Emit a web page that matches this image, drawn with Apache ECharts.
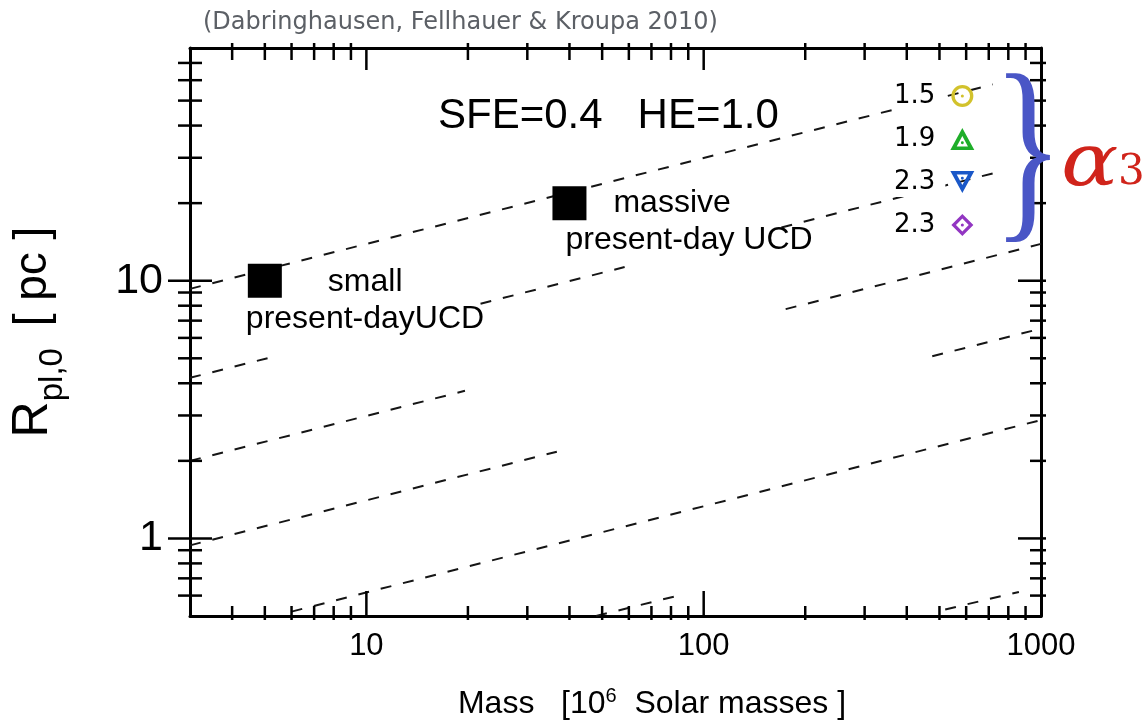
<!DOCTYPE html>
<html>
<head>
<meta charset="utf-8">
<script src="https://cdn.jsdelivr.net/npm/echarts@6/dist/echarts.min.js"></script>
<style>
  html, body { margin: 0; padding: 0; background: #fff; }
  #chart { width: 1145px; height: 725px; }
</style>
</head>
<body>
<div id="chart"></div>
<script>
// Mass axis (10^6 solar masses)
const massRange = [3, 1000];
const massLabels = [10, 100, 1000];
const massMajorTicks = [10, 100];
const massMinorTicks = [4, 5, 6, 7, 8, 9, 20, 30, 40, 50, 60, 70, 80, 90, 200, 300, 400, 500, 600, 700, 800, 900];

// Plummer radius axis (pc)
const radiusRange = [0.5, 80];
const radiusLabels = [1, 10];
const radiusMajorTicks = [1, 10];
const radiusMinorTicks = [0.6, 0.7, 0.8, 0.9, 2, 3, 4, 5, 6, 7, 8, 9, 20, 30, 40, 50, 60, 70];

// Present-day UCDs [mass, radius]
const ucdSmall = [5, 10];
const ucdMassive = [40, 20];

// Dashed constant-density lines; each is a list of visible pieces [[m0, r0], [m1, r1]]
const densityLine1 = [[[3, 9.3], [720, 57.8]]];
const densityLine2 = [[[3, 4.2], [5.2, 5.04]], [[21.8, 8.14], [58.3, 11.3]], [[170, 16.1], [720, 26.1]]];
const densityLine3 = [[[3, 2.0], [19.6, 3.74]], [[175, 7.76], [1000, 13.9]]];
const densityLine4 = [[[3, 0.94], [36.7, 2.17]], [[476, 5.09], [1000, 6.52]]];
const densityLine5 = [[[6, 0.52], [1000, 2.88]]];
const densityLine6 = [[[48, 0.5], [84, 0.6]]];
const densityLine7 = [[[520, 0.53], [860, 0.62]]];

// alpha_3 legend entries
const alphaKeys = ['alpha3 1.5', 'alpha3 1.9', 'alpha3 2.3 down', 'alpha3 2.3 diamond'];
const alphaLabels = ['1.5', '1.9', '2.3', '2.3'];
const alphaColors = ['#d2c22c', '#1fae2a', '#1a58c8', '#9236c2'];
const alphaIcons = [
  'path://M50,0 A50,50 0 1,1 50,100 A50,50 0 1,1 50,0 Z M50,15 A35,35 0 1,0 50,85 A35,35 0 1,0 50,15 Z M50,43 A7,7 0 1,1 50,57 A7,7 0 1,1 50,43 Z',
  'path://M50,2 L99,92 L1,92 Z M50,35 L27,78 L73,78 Z M50,56 A6,6 0 1,1 50,68 A6,6 0 1,1 50,56 Z',
  'path://M1,8 L99,8 L50,98 Z M27,22 L50,65 L73,22 Z M50,32 A6,6 0 1,1 50,44 A6,6 0 1,1 50,32 Z',
  'path://M50,0 L100,50 L50,100 L0,50 Z M50,21 L21,50 L50,79 L79,50 Z M50,43 A7,7 0 1,1 50,57 A7,7 0 1,1 50,43 Z'
];

const SANS = "'Liberation Sans', Arial, Helvetica, sans-serif";
const WIDE = "'DejaVu Sans', 'Liberation Sans', sans-serif";
const SERIF = "'DejaVu Serif', 'Liberation Serif', serif";
const BRACE = "'Liberation Serif', 'DejaVu Serif', serif";

const near = (list, v) => list.some(l => Math.abs(l - v) / l < 1e-6);

// one line series per visible piece of every density line
const densityLines = [densityLine1, densityLine2, densityLine3, densityLine4, densityLine5, densityLine6, densityLine7];
const lineSeries = [];
densityLines.forEach((pieces, i) => {
  pieces.forEach((piece, j) => {
    lineSeries.push({
      name: 'density ' + (i + 1) + '.' + (j + 1),
      type: 'line',
      data: piece,
      symbol: 'none',
      silent: true,
      z: 2,
      lineStyle: { color: '#151515', width: 2, type: [11, 12] }
    });
  });
});

const tickStyle = { stroke: '#000', lineWidth: 2.5 };

// tick marks on the mass axes (bottom and top edges of the frame)
const massTickSeries = {
  name: 'mass ticks',
  type: 'custom',
  silent: true,
  clip: false,
  z: 5,
  dimensions: ['m', 'r', 'major'],
  encode: { x: 0, y: 1 },
  data: massMajorTicks.map(v => [v, radiusRange[0], 1]).concat(massMinorTicks.map(v => [v, radiusRange[0], 0])),
  renderItem(params, api) {
    const x = api.coord([api.value(0), radiusRange[0]])[0];
    const cs = params.coordSys;
    const yb = cs.y + cs.height, yt = cs.y;
    const major = api.value(2) === 1;
    const bIn = major ? 25 : 10, bOut = major ? 0 : 4;
    const tIn = major ? 22 : 12, tOut = major ? 0 : 5;
    return {
      type: 'group',
      children: [
        { type: 'line', shape: { x1: x, y1: yb + bOut, x2: x, y2: yb - bIn }, style: tickStyle },
        { type: 'line', shape: { x1: x, y1: yt - tOut, x2: x, y2: yt + tIn }, style: tickStyle }
      ]
    };
  }
};

// tick marks on the radius axes (left and right edges of the frame)
const radiusTickSeries = {
  name: 'radius ticks',
  type: 'custom',
  silent: true,
  clip: false,
  z: 5,
  dimensions: ['m', 'r', 'major'],
  encode: { x: 0, y: 1 },
  data: radiusMajorTicks.map(v => [massRange[0], v, 1]).concat(radiusMinorTicks.map(v => [massRange[0], v, 0])),
  renderItem(params, api) {
    const y = api.coord([massRange[0], api.value(1)])[1];
    const cs = params.coordSys;
    const xl = cs.x, xr = cs.x + cs.width;
    const major = api.value(2) === 1;
    const lIn = major ? 22 : 12, lOut = major ? 22 : 12;
    const rIn = major ? 23 : 11, rOut = 5;
    return {
      type: 'group',
      children: [
        { type: 'line', shape: { x1: xl - lOut, y1: y, x2: xl + lIn, y2: y }, style: tickStyle },
        { type: 'line', shape: { x1: xr - rIn, y1: y, x2: xr + rOut, y2: y }, style: tickStyle }
      ]
    };
  }
};

const ucdLabelRich = {
  t: { fontSize: 32, fontFamily: SANS, color: '#000', lineHeight: 37, verticalAlign: 'middle' },
  s: { fontSize: 32, fontFamily: SANS, color: '#000', lineHeight: 37, verticalAlign: 'middle', padding: [0, 0, 0, 82] },
  m: { fontSize: 32, fontFamily: SANS, color: '#000', lineHeight: 37, verticalAlign: 'middle', padding: [0, 0, 0, 48] }
};

const ucdSeries = {
  name: 'present-day UCDs',
  type: 'scatter',
  symbol: 'rect',
  symbolSize: 34,
  z: 3,
  itemStyle: { color: '#000', opacity: 1 },
  label: { color: '#000' },
  data: [
    {
      value: ucdSmall,
      label: { show: true, position: [-2, 0], align: 'left', verticalAlign: 'top', color: '#000',
        formatter: '{s|small}\n{t|present-dayUCD}', rich: ucdLabelRich }
    },
    {
      value: ucdMassive,
      label: { show: true, position: [13, -1], align: 'left', verticalAlign: 'top', color: '#000',
        formatter: '{m|massive}\n{t|present-day UCD}', rich: ucdLabelRich }
    }
  ]
};

const alphaSeries = alphaKeys.map((key, i) => ({
  name: key,
  type: 'scatter',
  symbol: alphaIcons[i],
  itemStyle: { color: alphaColors[i], opacity: 1 },
  data: []
}));

const axisLineStyle = { lineStyle: { color: '#000', width: 3 } };

const option = {
  animation: false,
  backgroundColor: '#fff',
  grid: { left: 186, right: 104, top: 48, bottom: 107, containLabel: false },
  xAxis: [
    {
      type: 'log', logBase: 10, min: massRange[0], max: massRange[1], position: 'bottom',
      axisLine: axisLineStyle, axisTick: { show: false }, splitLine: { show: false }, minorTick: { show: false },
      axisLabel: {
        margin: 15, fontSize: 31, fontFamily: SANS, color: '#000',
        showMinLabel: true, showMaxLabel: true,
        formatter: v => near(massLabels, v) ? String(Math.round(v)) : ''
      },
      name: '{n|Mass   [10}{p|6}{n|  Solar masses ]}',
      nameLocation: 'middle', nameGap: 70,
      nameTextStyle: {
        padding: [0, 0, 0, 73],
        rich: {
          n: { fontSize: 32, fontFamily: SANS, color: '#000', lineHeight: 36, verticalAlign: 'middle' },
          p: { fontSize: 20, fontFamily: SANS, color: '#000', lineHeight: 20, verticalAlign: 'top' }
        }
      }
    },
    {
      type: 'log', logBase: 10, min: massRange[0], max: massRange[1], position: 'top',
      axisLine: axisLineStyle, axisTick: { show: false }, splitLine: { show: false }, axisLabel: { show: false }
    }
  ],
  yAxis: [
    {
      type: 'log', logBase: 10, min: radiusRange[0], max: radiusRange[1], position: 'left',
      axisLine: axisLineStyle, axisTick: { show: false }, splitLine: { show: false }, minorTick: { show: false },
      axisLabel: {
        margin: 27, fontSize: 43, fontFamily: SANS, color: '#000',
        formatter: v => near(radiusLabels, v) ? String(Math.round(v)) : ''
      },
      name: '{R|R}{b|pl,0}{n| [ pc ]}',
      nameLocation: 'middle', nameRotate: 90, nameGap: 121,
      nameTextStyle: {
        rich: {
          R: { fontSize: 50, fontFamily: SANS, color: '#000', lineHeight: 72, verticalAlign: 'middle' },
          b: { fontSize: 33, fontFamily: SANS, color: '#000', lineHeight: 28, verticalAlign: 'bottom', padding: [0, 9, 0, 0] },
          n: { fontSize: 46, fontFamily: SANS, color: '#000', lineHeight: 72, verticalAlign: 'middle' }
        }
      }
    },
    {
      type: 'log', logBase: 10, min: radiusRange[0], max: radiusRange[1], position: 'right',
      axisLine: axisLineStyle, axisTick: { show: false }, splitLine: { show: false }, axisLabel: { show: false }
    }
  ],
  legend: {
    orient: 'vertical',
    left: 894, top: 81,
    padding: 0,
    align: 'right',
    itemWidth: 24, itemHeight: 22, itemGap: 13,
    selectedMode: false,
    data: alphaKeys.map((k, i) => ({ name: k, icon: alphaIcons[i], itemStyle: { color: alphaColors[i], opacity: 1 } })),
    formatter: name => alphaLabels[alphaKeys.indexOf(name)],
    textStyle: { fontSize: 26, fontFamily: WIDE, color: '#000', lineHeight: 30, backgroundColor: '#fff', padding: [0, 10, 0, 0] }
  },
  graphic: [
    {
      type: 'text', x: 203, y: 23, silent: true,
      style: { text: '(Dabringhausen, Fellhauer & Kroupa 2010)', fontSize: 24, fontFamily: WIDE, fill: '#5c6066', align: 'left', verticalAlign: 'middle' }
    },
    {
      type: 'text', x: 438, y: 116, silent: true, z: 10,
      style: { text: 'SFE=0.4   HE=1.0', fontSize: 42, fontFamily: SANS, fill: '#000', align: 'left', verticalAlign: 'middle' }
    },
    {
      type: 'text', x: 1028, y: 161, scaleX: 0.72, silent: true, z: 20,
      style: { text: '}', fontSize: 204, fontFamily: BRACE, fill: '#4a56c6', align: 'center', verticalAlign: 'middle' }
    },
    {
      type: 'text', x: 1061, y: 166, scaleX: 1.18, silent: true, z: 20,
      style: { text: 'α', fontSize: 72, fontFamily: SERIF, fontStyle: 'italic', fill: '#d0241b', align: 'left', verticalAlign: 'middle' }
    },
    {
      type: 'text', x: 1118, y: 173, silent: true, z: 20,
      style: { text: '3', fontSize: 42, fontFamily: SERIF, fill: '#d0241b', align: 'left', verticalAlign: 'middle' }
    }
  ],
  series: lineSeries.concat([massTickSeries, radiusTickSeries, ucdSeries], alphaSeries)
};

const chart = echarts.init(document.getElementById('chart'), null, { renderer: 'canvas' });
chart.setOption(option);
</script>
</body>
</html>
